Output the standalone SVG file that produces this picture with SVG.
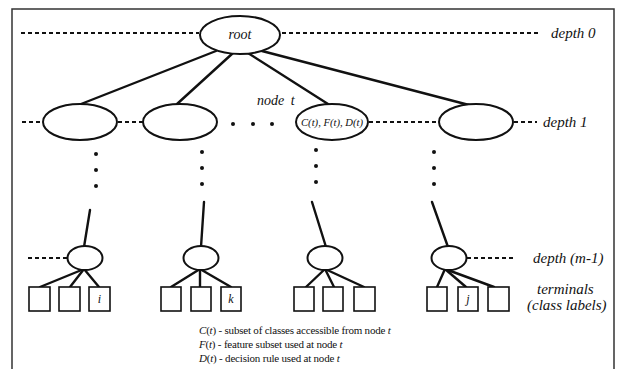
<svg xmlns="http://www.w3.org/2000/svg" width="619" height="369" viewBox="0 0 619 369">
<style>
.lbl{font-family:"Liberation Serif",serif;font-style:italic;fill:#111}
.side{font-size:15px}
.node{fill:#fff;stroke:#111;stroke-width:2}
.term{fill:#fff;stroke:#111;stroke-width:1.6}
.dash{stroke:#111;stroke-width:1.8;stroke-dasharray:4 3;fill:none}
.edge{stroke:#111;stroke-width:2.4;fill:none;stroke-linecap:round}
.leg{font-family:"Liberation Serif",serif;font-size:11px;letter-spacing:-0.2px;fill:#111}
.it{font-style:italic}
</style>
<rect x="0" y="0" width="619" height="369" fill="#fff"/>
<path d="M12 375 V9 H614 V375" fill="none" stroke="#333" stroke-width="1.5"/>

<g id="levels">
<line class="dash" x1="21" y1="33" x2="199" y2="33"/>
<line class="dash" x1="282" y1="33" x2="539" y2="33"/>
<line class="dash" x1="22" y1="122" x2="42" y2="122"/>
<line class="dash" x1="118" y1="122" x2="143" y2="122"/>
<line class="dash" x1="369" y1="122" x2="438" y2="122"/>
<line class="dash" x1="514" y1="122" x2="537" y2="122"/>
<line class="dash" x1="28" y1="258" x2="67" y2="258"/>
<line class="dash" x1="467" y1="258" x2="516" y2="258"/>
<text class="lbl side" x="551" y="38">depth 0</text>
<text class="lbl side" x="543" y="127">depth 1</text>
<text class="lbl side" x="533" y="263">depth (m-1)</text>
<text class="lbl side" x="537" y="294">terminals</text>
<text class="lbl side" x="527" y="310">(class labels)</text>
</g>

<g id="connectors">
<line class="edge" x1="216" y1="51" x2="81" y2="104"/>
<line class="edge" x1="233" y1="53" x2="177" y2="104"/>
<line class="edge" x1="248" y1="53" x2="328" y2="104"/>
<line class="edge" x1="262" y1="51" x2="469" y2="105"/>
<line class="edge" x1="90" y1="210" x2="84" y2="247"/>
<line class="edge" x1="204" y1="202" x2="201" y2="247"/>
<line class="edge" x1="312" y1="202" x2="326" y2="247"/>
<line class="edge" x1="432" y1="202" x2="448" y2="247"/>
<line class="edge" x1="84" y1="269" x2="40" y2="287"/>
<line class="edge" x1="84" y1="269" x2="70" y2="287"/>
<line class="edge" x1="84" y1="269" x2="99" y2="287"/>
<line class="edge" x1="200" y1="269" x2="171" y2="287"/>
<line class="edge" x1="200" y1="269" x2="200" y2="287"/>
<line class="edge" x1="200" y1="269" x2="231" y2="287"/>
<line class="edge" x1="325" y1="269" x2="306" y2="287"/>
<line class="edge" x1="325" y1="269" x2="334" y2="287"/>
<line class="edge" x1="325" y1="269" x2="364" y2="287"/>
<line class="edge" x1="445" y1="269" x2="437" y2="287"/>
<line class="edge" x1="445" y1="269" x2="466" y2="287"/>
<line class="edge" x1="445" y1="269" x2="494" y2="287"/>
</g>

<g id="dots" fill="#111">
<circle cx="233" cy="124" r="2"/><circle cx="253" cy="124" r="2"/><circle cx="272" cy="124" r="2"/>
<circle cx="96" cy="154" r="2"/><circle cx="96" cy="170" r="2"/><circle cx="96" cy="186" r="2"/>
<circle cx="202" cy="152" r="2"/><circle cx="202" cy="168" r="2"/><circle cx="202" cy="184" r="2"/>
<circle cx="316" cy="150" r="2"/><circle cx="316" cy="166" r="2"/><circle cx="316" cy="182" r="2"/>
<circle cx="434" cy="152" r="2"/><circle cx="434" cy="168" r="2"/><circle cx="434" cy="184" r="2"/>
</g>

<g id="root"><ellipse class="node" cx="240" cy="35" rx="40" ry="19"/><text class="lbl" x="240" y="39" font-size="14" text-anchor="middle">root</text></g>

<g id="n1a"><ellipse class="node" cx="80" cy="122" rx="37" ry="18"/></g>
<g id="n1b"><ellipse class="node" cx="180" cy="122" rx="37" ry="18"/></g>
<g id="node-t"><ellipse class="node" cx="332" cy="122" rx="36" ry="18"/><text class="lbl" x="332" y="126" font-size="10.5" text-anchor="middle" textLength="62" lengthAdjust="spacingAndGlyphs">C(t), F(t), D(t)</text></g>
<text class="lbl" x="257" y="105" font-size="14" word-spacing="3">node t</text>
<g id="n1d"><ellipse class="node" cx="476" cy="122" rx="37" ry="18"/></g>

<g id="m1a"><ellipse class="node" cx="85" cy="258" rx="17.5" ry="12"/></g>
<g id="m1b"><ellipse class="node" cx="201" cy="258" rx="17.5" ry="12"/></g>
<g id="m1c"><ellipse class="node" cx="325" cy="258" rx="17.5" ry="12"/></g>
<g id="m1d"><ellipse class="node" cx="449" cy="258" rx="17.5" ry="12"/></g>

<g id="t1"><rect class="term" x="29" y="287" width="21" height="24"/></g>
<g id="t2"><rect class="term" x="59" y="287" width="21" height="24"/></g>
<g id="t3"><rect class="term" x="89" y="287" width="21" height="24"/><text class="lbl" x="99.5" y="303" font-size="12" text-anchor="middle">i</text></g>
<g id="t4"><rect class="term" x="161" y="287" width="20" height="24"/></g>
<g id="t5"><rect class="term" x="191" y="287" width="20" height="24"/></g>
<g id="t6"><rect class="term" x="221" y="287" width="20" height="24"/><text class="lbl" x="231" y="303" font-size="12" text-anchor="middle">k</text></g>
<g id="t7"><rect class="term" x="294" y="287" width="20" height="24"/></g>
<g id="t8"><rect class="term" x="323" y="287" width="20" height="24"/></g>
<g id="t9"><rect class="term" x="354" y="287" width="21" height="24"/></g>
<g id="t10"><rect class="term" x="427" y="287" width="20" height="24"/></g>
<g id="t11"><rect class="term" x="458" y="287" width="20" height="24"/><text class="lbl" x="468" y="303" font-size="12" text-anchor="middle">j</text></g>
<g id="t12"><rect class="term" x="488" y="287" width="21" height="24"/></g>

<g id="legend">
<text class="leg" x="199" y="334"><tspan class="it">C</tspan>(<tspan class="it">t</tspan>)  - subset of classes accessible from node <tspan class="it">t</tspan></text>
<text class="leg" x="199" y="348"><tspan class="it">F</tspan>(<tspan class="it">t</tspan>)  -  feature subset used at node <tspan class="it">t</tspan></text>
<text class="leg" x="199" y="362"><tspan class="it">D</tspan>(<tspan class="it">t</tspan>)  - decision rule used at node <tspan class="it">t</tspan></text>
</g>
</svg>
